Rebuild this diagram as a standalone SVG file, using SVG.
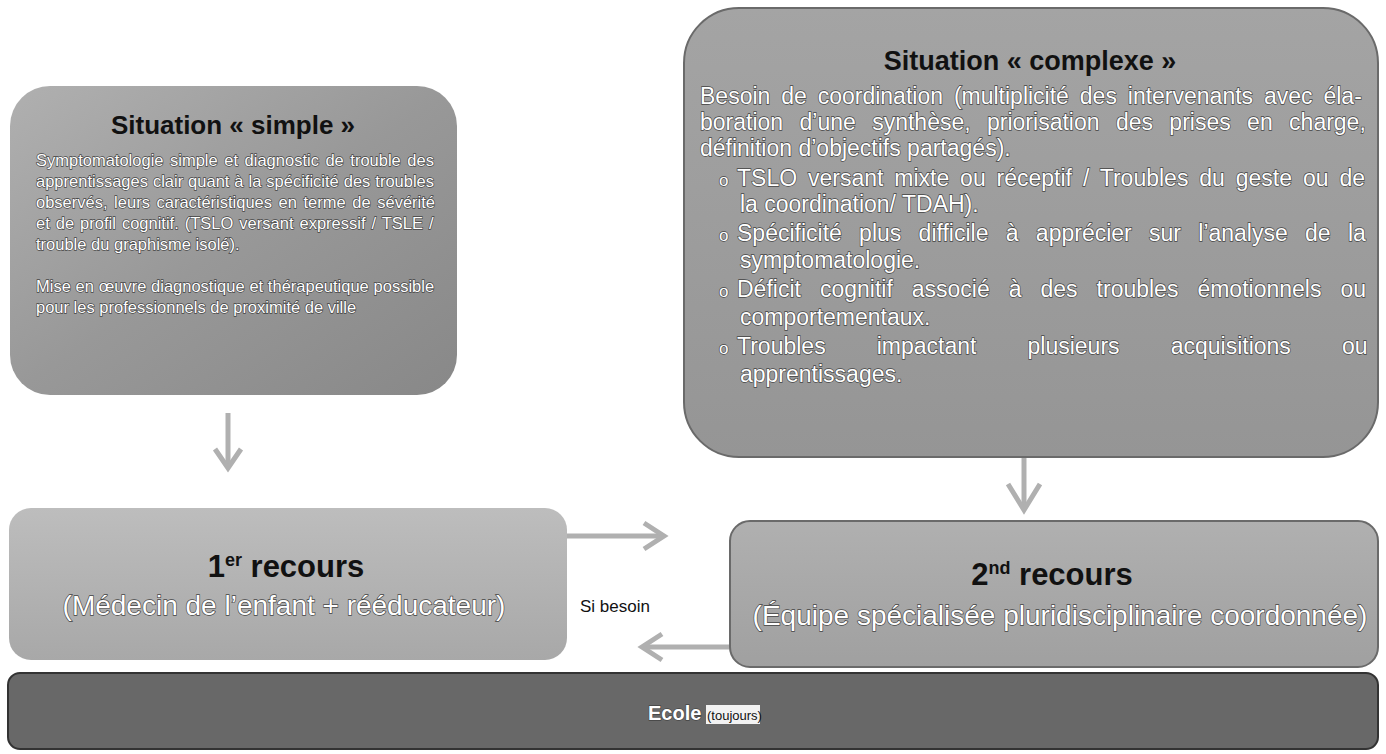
<svg xmlns="http://www.w3.org/2000/svg" width="1386" height="754" viewBox="0 0 1386 754">
<defs>
<style>
.title{font-family:"Liberation Sans",Arial,sans-serif;font-weight:bold;fill:#111;}
.body{font-family:"Liberation Sans",Arial,sans-serif;fill:#fff;stroke:#444;stroke-width:1.3px;paint-order:stroke;}
.lbl{font-family:"Liberation Sans",Arial,sans-serif;fill:#111;}
.arrow{fill:none;stroke:#b0b0b0;stroke-width:5;stroke-linecap:butt;}
.bullet{font-size:17px;}
</style>
<linearGradient id="gSimple" x1="0" y1="0" x2="1" y2="1">
<stop offset="0" stop-color="#b0b0b0"/><stop offset="0.5" stop-color="#989898"/><stop offset="1" stop-color="#888888"/>
</linearGradient>
<linearGradient id="gComplex" x1="0" y1="0" x2="0" y2="1">
<stop offset="0" stop-color="#a4a4a4"/><stop offset="1" stop-color="#959595"/>
</linearGradient>
<linearGradient id="gFirst" x1="0" y1="0" x2="0" y2="1">
<stop offset="0" stop-color="#bdbdbd"/><stop offset="1" stop-color="#a8a8a8"/>
</linearGradient>
<linearGradient id="gSecond" x1="0" y1="0" x2="0" y2="1">
<stop offset="0" stop-color="#b0b0b0"/><stop offset="1" stop-color="#a0a0a0"/>
</linearGradient>
</defs>
<rect width="1386" height="754" fill="#fff"/>

<g id="connectors">
<g id="arrow-simple-first">
<line class="arrow" x1="228" y1="413" x2="228" y2="466"/>
<polyline class="arrow" points="215,449 228,468 241,449"/>
</g>
<g id="arrow-complex-second">
<line class="arrow" x1="1024" y1="458" x2="1024" y2="506" stroke-width="7"/>
<polyline class="arrow" points="1008,484 1024,510 1040,484" stroke-width="6"/>
</g>
<g id="arrow-first-second">
<line class="arrow" x1="567" y1="536" x2="662" y2="536"/>
<polyline class="arrow" points="644,523 664,536 644,549"/>
</g>
<g id="arrow-second-first">
<line class="arrow" x1="730" y1="647" x2="646" y2="647"/>
<polyline class="arrow" points="662,634 642,647 662,660"/>
</g>
<text id="lbl-si-besoin" class="lbl" x="580" y="612" font-size="17">Si besoin</text>
</g>

<g id="node-simple">
<rect x="10" y="86" width="447" height="309" rx="40" fill="url(#gSimple)"/>
<text class="title" x="233" y="134" font-size="26" text-anchor="middle">Situation « simple »</text>
<g class="body" font-size="16.5">
<text x="36" y="166" word-spacing="1.97">Symptomatologie simple et diagnostic de trouble des</text>
<text x="36" y="187" word-spacing="0.39">apprentissages clair quant à la spécificité des troubles</text>
<text x="36" y="208" word-spacing="2">observés, leurs caractéristiques en terme de sévérité</text>
<text x="36" y="229" word-spacing="1.42">et de profil cognitif. (TSLO versant expressif / TSLE /</text>
<text x="36" y="250">trouble du graphisme isolé).</text>
<text x="36" y="292" word-spacing="0.15">Mise en œuvre diagnostique et thérapeutique possible</text>
<text x="36" y="313">pour les professionnels de proximité de ville</text>
</g>
</g>

<g id="node-complex">
<rect x="684" y="8" width="694" height="449" rx="55" fill="url(#gComplex)" stroke="#6a6a6a" stroke-width="2"/>
<text class="title" x="1030" y="70" font-size="27" text-anchor="middle">Situation « complexe »</text>
<g class="body" font-size="23">
<text x="700" y="104" word-spacing="4.5">Besoin de coordination (multiplicité des intervenants avec éla-</text>
<text x="700" y="130" word-spacing="10">boration d’une synthèse, priorisation des prises en charge,</text>
<text x="700" y="156">définition d’objectifs partagés).</text>
<text class="bullet" x="719" y="186">o</text>
<text x="737" y="186" word-spacing="4.5">TSLO versant mixte ou réceptif / Troubles du geste ou de</text>
<text x="740" y="212">la coordination/ TDAH).</text>
<text class="bullet" x="719" y="241">o</text>
<text x="737" y="241" word-spacing="10.9">Spécificité plus difficile à apprécier sur l’analyse de la</text>
<text x="740" y="268">symptomatologie.</text>
<text class="bullet" x="719" y="297">o</text>
<text x="737" y="297" word-spacing="12.6">Déficit cognitif associé à des troubles émotionnels ou</text>
<text x="740" y="325">comportementaux.</text>
<text class="bullet" x="719" y="354">o</text>
<text x="737" y="354" word-spacing="44.7">Troubles impactant plusieurs acquisitions ou</text>
<text x="740" y="382">apprentissages.</text>
</g>
</g>

<g id="node-first">
<rect x="9" y="508" width="558" height="152" rx="22" fill="url(#gFirst)"/>
<text class="title" x="286" y="577" font-size="31" text-anchor="middle">1<tspan font-size="18" dy="-11">er</tspan><tspan dy="11"> recours</tspan></text>
<text class="body" x="284" y="615" font-size="28" text-anchor="middle">(Médecin de l’enfant + rééducateur)</text>
</g>

<g id="node-second">
<rect x="730" y="521" width="648" height="146" rx="20" fill="url(#gSecond)" stroke="#6a6a6a" stroke-width="2"/>
<text class="title" x="1052" y="585" font-size="31" text-anchor="middle">2<tspan font-size="18" dy="-11">nd</tspan><tspan dy="11">  recours</tspan></text>
<text class="body" x="1060" y="625" font-size="28" text-anchor="middle">(Équipe spécialisée pluridisciplinaire coordonnée)</text>
</g>

<g id="node-ecole">
<rect x="8" y="673" width="1370" height="76" rx="12" fill="#686868" stroke="#333" stroke-width="2"/>
<text class="body" x="648" y="720" font-size="20" font-weight="bold">Ecole</text>
<rect x="706" y="705" width="54" height="19" fill="#f2f2f2"/>
<text class="lbl" x="707" y="720" font-size="13">(toujours)</text>
</g>
</svg>
